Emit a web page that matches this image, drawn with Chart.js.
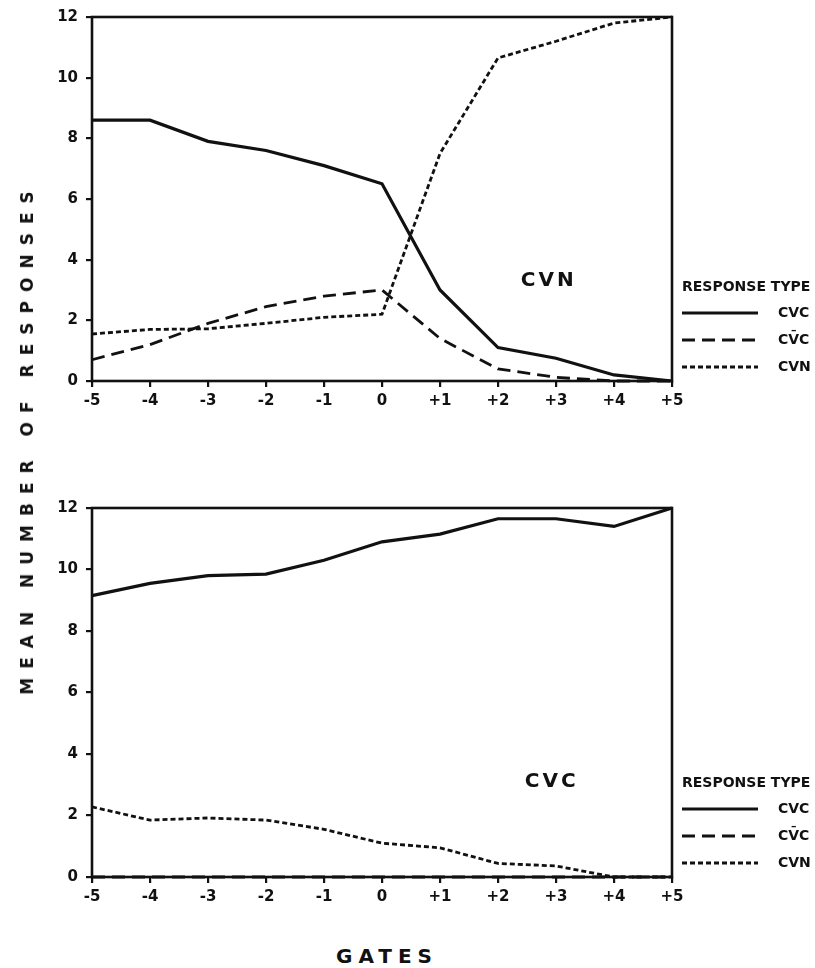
<!DOCTYPE html>
<html>
<head>
<meta charset="utf-8">
<script src="https://cdn.jsdelivr.net/npm/chart.js@4.4.0/dist/chart.umd.min.js"></script>
<style>
html,body{margin:0;padding:0;background:#fff;}
body{width:815px;height:968px;position:relative;overflow:hidden;font-family:"DejaVu Sans",sans-serif;color:#111;}
canvas{position:absolute;left:0;}
#c1{top:0;}
#c2{top:410px;}
.ytitle{position:absolute;left:27px;top:443px;transform:translate(-50%,-50%) rotate(-90deg);font-weight:bold;font-size:17px;letter-spacing:9px;padding-left:9px;white-space:nowrap;}
.xtitle{position:absolute;left:384px;top:956px;transform:translate(-50%,-50%);font-weight:bold;font-size:20px;letter-spacing:6px;padding-left:6px;white-space:nowrap;}
</style>
</head>
<body>
<canvas id="c1" width="815" height="410"></canvas>
<canvas id="c2" width="815" height="500"></canvas>
<div class="ytitle" id="ytitle"></div>
<div class="xtitle" id="xtitle"></div>
<script>
// ---- data ----
const GATES = ['-5','-4','-3','-2','-1','0','+1','+2','+3','+4','+5'];
const Y_TICKS = [0, 2, 4, 6, 8, 10, 12];
const SERIES_NAMES = ['CVC', 'CV\u0304C', 'CVN'];
const LEGEND_TITLE = 'RESPONSE TYPE';
const Y_TITLE = 'MEAN NUMBER OF RESPONSES';
const X_TITLE = 'GATES';

// top panel: target CVN
const PANEL1_LABEL = 'CVN';
const P1_CVC    = [8.6, 8.6, 7.9, 7.6, 7.1, 6.5, 3.0, 1.1, 0.75, 0.2, 0];
const P1_CVBARC = [0.7, 1.2, 1.9, 2.45, 2.8, 3.0, 1.4, 0.4, 0.12, 0, 0];
const P1_CVN    = [1.55, 1.7, 1.72, 1.9, 2.1, 2.2, 7.5, 10.65, 11.2, 11.8, 12];

// bottom panel: target CVC
const PANEL2_LABEL = 'CVC';
const P2_CVC    = [9.15, 9.55, 9.8, 9.85, 10.3, 10.9, 11.15, 11.65, 11.65, 11.4, 12];
const P2_CVBARC = [0, 0, 0, 0, 0, 0, 0, 0, 0, 0, 0];
const P2_CVN    = [2.28, 1.85, 1.92, 1.85, 1.55, 1.1, 0.95, 0.44, 0.36, 0, 0];

// ---- styles ----
const INK = '#111';
const FONT = '"DejaVu Sans", sans-serif';
const STYLES = [
  {borderDash: [], borderWidth: 3.2},
  {borderDash: [13, 7], borderWidth: 2.8},
  {borderDash: [5, 3], borderWidth: 2.8}
];

document.getElementById('ytitle').textContent = Y_TITLE;
document.getElementById('xtitle').textContent = X_TITLE;

function drawSpaced(ctx, text, cx, cy, spacing) {
  const chars = Array.from(text);
  const widths = chars.map(c => ctx.measureText(c).width);
  const total = widths.reduce((a, b) => a + b, 0) + spacing * (chars.length - 1);
  let x = cx - total / 2;
  ctx.textAlign = 'left';
  chars.forEach((c, i) => { ctx.fillText(c, x, cy); x += widths[i] + spacing; });
}

const decorPlugin = {
  id: 'decor',
  afterDatasetsDraw(chart, args, opts) {
    const {ctx, chartArea: a} = chart;
    const xs = chart.scales.x, ys = chart.scales.y;
    ctx.save();
    // frame
    ctx.strokeStyle = INK;
    ctx.lineWidth = 2.6;
    ctx.setLineDash([]);
    ctx.strokeRect(a.left, a.top, a.right - a.left, a.bottom - a.top);
    // panel label
    ctx.fillStyle = INK;
    ctx.font = 'bold 20px ' + FONT;
    ctx.textBaseline = 'middle';
    drawSpaced(ctx, opts.label, xs.getPixelForValue(opts.labelX), ys.getPixelForValue(opts.labelY), 3);
    // legend
    ctx.font = 'bold 14px ' + FONT;
    ctx.textAlign = 'left';
    ctx.textBaseline = 'middle';
    ctx.fillText(LEGEND_TITLE, a.right + 10, a.bottom - 94);
    chart.data.datasets.forEach((ds, i) => {
      const y = a.bottom - 68 + i * 27;
      ctx.beginPath();
      ctx.lineWidth = ds.borderWidth;
      ctx.setLineDash(ds.borderDash);
      ctx.moveTo(a.right + 10, y);
      ctx.lineTo(a.right + 86, y);
      ctx.stroke();
      ctx.setLineDash([]);
      ctx.fillText(ds.label, a.right + 106, y);
    });
    ctx.restore();
  }
};

function makeChart(id, series, label, labelX, labelY, padTop, xHeight) {
  const datasets = series.map((vals, i) => ({
    label: SERIES_NAMES[i],
    data: vals,
    borderColor: INK,
    backgroundColor: INK,
    borderWidth: STYLES[i].borderWidth,
    borderDash: STYLES[i].borderDash,
    pointRadius: 0,
    tension: 0,
    fill: false,
    clip: false
  }));
  return new Chart(document.getElementById(id), {
    type: 'line',
    data: {labels: GATES, datasets},
    plugins: [decorPlugin],
    options: {
      responsive: false,
      devicePixelRatio: 1,
      animation: false,
      events: [],
      layout: {padding: {left: 0, right: 143, top: padTop, bottom: 0}},
      plugins: {
        legend: {display: false},
        tooltip: {enabled: false},
        decor: {label, labelX, labelY}
      },
      scales: {
        x: {
          type: 'category',
          offset: false,
          border: {display: false},
          grid: {display: true, drawOnChartArea: false, drawTicks: true, tickLength: 6, color: INK, lineWidth: 2.2, offset: false},
          ticks: {color: INK, font: {family: FONT, weight: 'bold', size: 15}, padding: 5, maxRotation: 0, autoSkip: false},
          afterFit: s => { s.height = xHeight; }
        },
        y: {
          min: 0, max: 12,
          border: {display: false},
          grid: {display: true, drawOnChartArea: false, drawTicks: true, tickLength: 6, color: INK, lineWidth: 2.2},
          ticks: {color: INK, font: {family: FONT, weight: 'bold', size: 15}, padding: 8},
          afterBuildTicks: s => { s.ticks = Y_TICKS.map(v => ({value: v})); },
          afterFit: s => { s.width = 92; }
        }
      }
    }
  });
}

makeChart('c1', [P1_CVC, P1_CVBARC, P1_CVN], PANEL1_LABEL, 7.85, 3.3, 14, 29);
makeChart('c2', [P2_CVC, P2_CVBARC, P2_CVN], PANEL2_LABEL, 7.9, 3.1, 98, 33);
</script>
</body>
</html>
